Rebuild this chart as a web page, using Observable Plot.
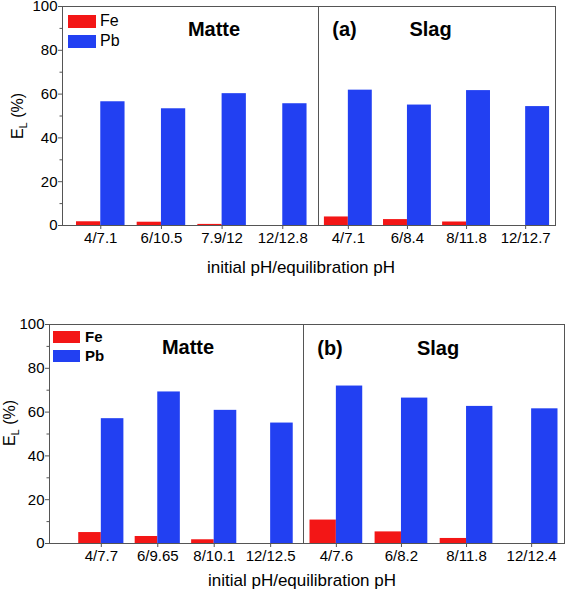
<!DOCTYPE html>
<html>
<head>
<meta charset="utf-8">
<script src="https://cdn.jsdelivr.net/npm/d3@7"></script>
<script src="https://cdn.jsdelivr.net/npm/@observablehq/plot@0.6"></script>
<style>
  html, body { margin: 0; padding: 0; background: #fff; }
  #root { position: relative; width: 567px; height: 592px; overflow: hidden; font-family: "Liberation Sans", Arial, sans-serif; color: #000; }
  #root > div.p { position: absolute; }
  .t { position: absolute; white-space: nowrap; line-height: 1; }
  .sw { position: absolute; }
</style>
</head>
<body>
<div id="root"></div>
<script>
// ---- data ----
const seriesNames = ["Fe", "Pb"];
const matteLabelsA = ["4/7.1", "6/10.5", "7.9/12", "12/12.8"];
const matteFeA = [1.7, 1.5, 0.5, 0];
const mattePbA = [56.5, 53.3, 60.2, 55.6];
const slagLabelsA = ["4/7.1", "6/8.4", "8/11.8", "12/12.7"];
const slagFeA = [3.9, 2.7, 1.6, 0];
const slagPbA = [61.8, 55.0, 61.6, 54.3];
const matteLabelsB = ["4/7.7", "6/9.65", "8/10.1", "12/12.5"];
const matteFeB = [5.0, 3.2, 1.7, 0];
const mattePbB = [57.0, 69.2, 60.8, 55.0];
const slagLabelsB = ["4/7.6", "6/8.2", "8/11.8", "12/12.4"];
const slagFeB = [10.7, 5.3, 2.3, 0];
const slagPbB = [71.9, 66.4, 62.6, 61.5];
const yTicks = [0, 20, 40, 60, 80, 100];
const yMinorTicks = [10, 30, 50, 70, 90];

const RED = "#f31616", BLUE = "#2240f2", GRAY = "#555";
const FONT = "'Liberation Sans', Arial, sans-serif";
const root = document.getElementById("root");

function half(o) {
  const rows = o.labels.map((label, i) => ({label, fe: o.fe[i], pb: o.pb[i]}));
  const bw = d3.scaleBand().domain(o.labels).range([o.ml, o.width - o.mr])
    .paddingInner(o.pi).paddingOuter(o.po).align(o.align).bandwidth();
  const marks = [
    Plot.barY(rows, {x: "label", y: "fe", fill: RED, insetRight: bw / 2}),
    Plot.barY(rows, {x: "label", y: "pb", fill: BLUE, insetLeft: bw / 2}),
    Plot.axisX({tickSize: 4, tickPadding: 3, stroke: GRAY, label: null}),
    Plot.frame({stroke: GRAY})
  ];
  if (o.yAxis) {
    marks.push(Plot.axisY({ticks: yTicks, tickSize: 4, tickPadding: 1, stroke: GRAY, label: null}));
    marks.push(Plot.axisY({ticks: yMinorTicks, tickSize: 2.5, text: null, stroke: GRAY, label: null}));
  }
  const svg = Plot.plot({
    width: o.width, height: o.height,
    marginLeft: o.ml, marginRight: o.mr, marginTop: o.mt, marginBottom: o.mb,
    x: {domain: o.labels, paddingInner: o.pi, paddingOuter: o.po, align: o.align, round: false},
    y: {domain: [0, 100], axis: null},
    style: {fontSize: "15px", fontFamily: FONT, color: "#000", background: "transparent", overflow: "visible"},
    marks
  });
  const wrap = document.createElement("div");
  wrap.className = "p";
  wrap.style.left = o.left + "px";
  wrap.style.top = o.top + "px";
  wrap.appendChild(svg);
  root.appendChild(wrap);
}

// panel (a)
half({labels: matteLabelsA, fe: matteFeA, pb: mattePbA, left: 0, top: 0, width: 318, height: 250,
  ml: 62, mr: 0, mt: 6, mb: 25, pi: 0.2, po: 0.21, align: 0.55, yAxis: true});
half({labels: slagLabelsA, fe: slagFeA, pb: slagPbA, left: 318, top: 0, width: 249, height: 250,
  ml: 0, mr: 12, mt: 6, mb: 25, pi: 0.19, po: 0.1, align: 0.5, yAxis: false});
// panel (b)
half({labels: matteLabelsB, fe: matteFeB, pb: mattePbB, left: 0, top: 290, width: 303, height: 280,
  ml: 49, mr: 0, mt: 34, mb: 27, pi: 0.2, po: 0.35, align: 0.74, yAxis: true});
half({labels: slagLabelsB, fe: slagFeB, pb: slagPbB, left: 303, top: 290, width: 264, height: 280,
  ml: 0, mr: 3, mt: 34, mb: 27, pi: 0.19, po: 0.1, align: 0.5, yAxis: false});

// ---- annotations ----
function label(html, x, baseline, size, weight, anchor) {
  const d = document.createElement("div");
  d.className = "t";
  d.innerHTML = html;
  d.style.fontSize = size + "px";
  d.style.fontWeight = weight || "normal";
  d.style.left = x + "px";
  d.style.top = (baseline - 0.8465 * size) + "px";
  if (anchor === "middle") d.style.transform = "translateX(-50%)";
  root.appendChild(d);
}
function swatch(color, x, y, w, h) {
  const d = document.createElement("div");
  d.className = "sw";
  Object.assign(d.style, {left: x + "px", top: y + "px", width: w + "px", height: h + "px", background: color});
  root.appendChild(d);
}
function ylabel(cx, cy) {
  const d = document.createElement("div");
  d.className = "t";
  d.innerHTML = "E<sub style='font-size:11px;vertical-align:-4px'>L</sub> (%)";
  d.style.fontSize = "16px";
  d.style.left = cx + "px";
  d.style.top = cy + "px";
  d.style.transform = "translate(-50%,-50%) rotate(-90deg)";
  root.appendChild(d);
}

// panel (a)
label("Matte", 214, 36, 20, "bold", "middle");
label("(a)", 344.5, 36, 20, "bold", "middle");
label("Slag", 430.5, 36, 20, "bold", "middle");
swatch(RED, 68, 15, 28, 13);
swatch(BLUE, 68, 35, 28, 13);
label(seriesNames[0], 100, 26.7, 16, "normal");
label(seriesNames[1], 100, 46.7, 16, "normal");
ylabel(19, 116);
label("initial pH/equilibration pH", 301, 273, 17, "normal", "middle");

// panel (b)
label("Matte", 188, 354, 20, "bold", "middle");
label("(b)", 330, 355, 20, "bold", "middle");
label("Slag", 438, 355, 20, "bold", "middle");
swatch(RED, 53, 331, 27, 12);
swatch(BLUE, 53, 350, 27, 12);
label(seriesNames[0], 85, 341.7, 15, "bold");
label(seriesNames[1], 85, 360.7, 15, "bold");
ylabel(11, 423);
label("initial pH/equilibration pH", 302, 586, 17, "normal", "middle");
</script>
</body>
</html>
